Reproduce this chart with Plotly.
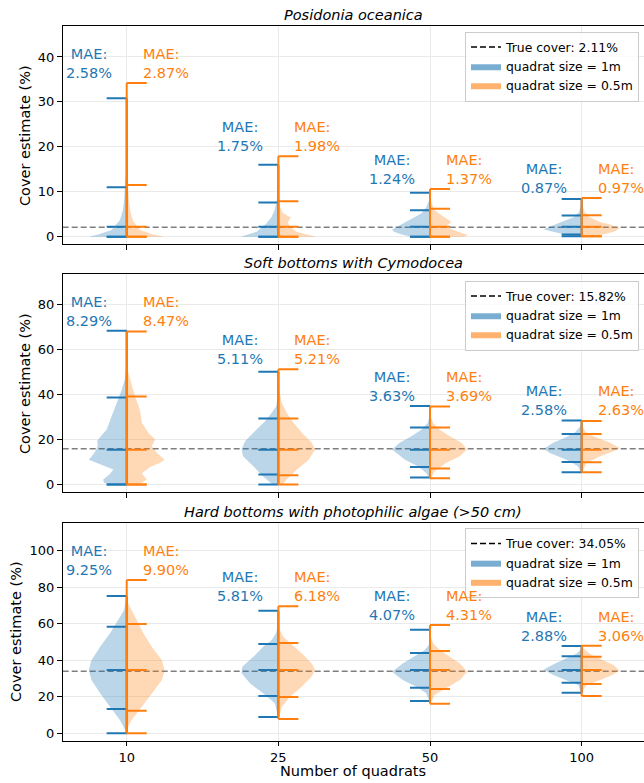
import plotly.graph_objects as go

# ---------------- data ----------------
N_QUADRATS = ["10", "25", "50", "100"]
HABITATS = ["Posidonia oceanica", "Soft bottoms with Cymodocea",
            "Hard bottoms with photophilic algae (&gt;50 cm)"]
TRUE_COVER = [2.11, 15.82, 34.05]
MAE_1M = [[2.58, 1.75, 1.24, 0.87], [8.29, 5.11, 3.63, 2.58], [9.25, 5.81, 4.07, 2.88]]
MAE_05M = [[2.87, 1.98, 1.37, 0.97], [8.47, 5.21, 3.69, 2.63], [9.90, 6.18, 4.31, 3.06]]

# per violin: [min, low quantile, median, high quantile, max]
STATS_1M_POS = [[0, 0, 2.2, 11.0, 30.8], [0, 0, 2.2, 7.6, 16.0], [0, 0, 2.2, 5.9, 9.8], [0.1, 0.5, 2.2, 4.7, 8.4]]
STATS_05M_POS = [[0, 0, 2.2, 11.5, 34.2], [0, 0, 2.2, 7.9, 17.9], [0, 0, 2.2, 6.2, 10.6], [0.1, 0.1, 2.2, 4.8, 8.6]]
STATS_1M_SOFT = [[0, 0, 15.4, 38.6, 68.2], [0, 4.4, 15.4, 29.3, 50.0], [3.1, 7.8, 15.4, 25.3, 34.8], [5.4, 10.0, 15.4, 22.4, 28.4]]
STATS_05M_SOFT = [[0, 0, 15.4, 39.0, 67.8], [0, 4.1, 15.4, 29.3, 51.1], [2.8, 7.1, 15.4, 25.3, 34.6], [5.4, 9.9, 15.4, 22.4, 28.2]]
STATS_1M_HARD = [[0, 13.3, 34.7, 58.4, 75.2], [8.9, 20.4, 34.7, 48.9, 67.2], [17.7, 25.0, 34.7, 44.0, 56.8], [22.2, 27.7, 34.7, 42.2, 47.8]]
STATS_05M_HARD = [[0, 12.4, 34.7, 59.9, 84.0], [7.8, 19.9, 34.7, 49.5, 69.7], [16.2, 24.3, 34.7, 45.1, 59.3], [20.4, 27.0, 34.7, 42.0, 48.0]]

# density profiles (cover value, relative half-width)
PROF_Y_1M_POS = [[0, 0.5, 1.5, 3.7, 5.9, 8, 10.5, 12, 16, 30.8],
                 [0, 0.5, 1.1, 3.0, 4.4, 5.9, 7.5, 9, 12, 16],
                 [0, 0.5, 1.1, 1.6, 2.5, 3.3, 4.1, 5.2, 6.5, 8, 9.8],
                 [0.1, 0.5, 1.1, 1.6, 2.2, 3.3, 4.4, 5.5, 7, 8.4]]
PROF_W_1M_POS = [[1.0, 0.75, 0.4, 0.18, 0.1, 0.07, 0.05, 0.02, 0.005, 0],
                 [1.0, 0.8, 0.57, 0.31, 0.18, 0.1, 0.05, 0.02, 0.005, 0],
                 [0.5, 0.75, 0.95, 1.0, 0.8, 0.62, 0.45, 0.22, 0.1, 0.03, 0],
                 [0.3, 0.45, 0.8, 1.0, 0.85, 0.53, 0.2, 0.07, 0.02, 0]]
PROF_Y_05M_POS = [[0, 0.5, 1.5, 3.5, 5.5, 8, 11, 14, 20, 34.2],
                  [0, 0.5, 1.1, 2.2, 3.2, 4.2, 5.3, 6.5, 8, 11, 17.9],
                  [0, 0.4, 1.1, 2.2, 3.3, 4.5, 5.9, 7.5, 9, 10.6],
                  [0.1, 0.5, 1.1, 1.9, 2.7, 3.3, 4.4, 5.5, 7, 8.6]]
PROF_W_05M_POS = [[1.0, 0.7, 0.35, 0.17, 0.1, 0.06, 0.03, 0.01, 0.005, 0],
                  [1.0, 0.75, 0.48, 0.3, 0.25, 0.33, 0.12, 0.05, 0.02, 0.005, 0],
                  [0.9, 1.0, 0.74, 0.4, 0.57, 0.35, 0.12, 0.04, 0.01, 0],
                  [0.3, 0.55, 0.85, 1.0, 0.75, 0.48, 0.2, 0.08, 0.02, 0]]

PROF_Y_1M_SOFT = [[0, 0.75, 2.2, 4.5, 6.6, 9, 11, 13, 15.5, 17.5, 19.2, 21.5, 24.3, 30.2, 36.2, 42, 47.3, 55, 68.2],
                  [0, 0.7, 3.6, 8.1, 12.5, 15.5, 19.2, 23.6, 28, 31.7, 34.6, 40, 50],
                  [3.1, 5.1, 8.1, 11, 15.5, 18.5, 21.4, 24.3, 27.3, 30, 34.8],
                  [5.4, 8.1, 11, 14, 15.8, 18.5, 20.7, 23, 25.5, 28.4]]
PROF_W_1M_SOFT = [[0.45, 0.6, 0.62, 0.45, 0.35, 0.7, 1.0, 0.9, 0.8, 0.76, 0.78, 0.68, 0.53, 0.4, 0.27, 0.13, 0.04, 0.01, 0],
                  [0.15, 0.2, 0.4, 0.66, 0.93, 0.97, 0.88, 0.62, 0.35, 0.18, 0.06, 0.01, 0],
                  [0.03, 0.1, 0.32, 0.66, 1.0, 0.8, 0.49, 0.23, 0.06, 0.02, 0],
                  [0.02, 0.1, 0.4, 0.84, 1.0, 0.75, 0.44, 0.18, 0.05, 0]]
PROF_Y_05M_SOFT = [[0, 0.75, 2.2, 5, 7.5, 9.6, 11, 14, 17, 19.9, 22.9, 27.4, 33, 39, 45, 49.8, 56, 67.8],
                   [0, 2.2, 6.6, 11, 15.5, 18.5, 22.9, 27.4, 31.7, 36.2, 42, 51.1],
                   [2.8, 5.8, 9.6, 12.5, 15.5, 18.5, 21.4, 24.3, 27.3, 30, 34.6],
                   [5.4, 9.6, 12.5, 14.7, 16.2, 18.5, 21.4, 23.6, 26, 28.2]]
PROF_W_05M_SOFT = [[0.3, 0.4, 0.53, 0.4, 0.6, 0.88, 1.0, 0.8, 0.66, 0.75, 0.57, 0.4, 0.35, 0.22, 0.13, 0.04, 0.01, 0],
                   [0.12, 0.22, 0.49, 0.8, 0.97, 0.88, 0.62, 0.4, 0.22, 0.09, 0.02, 0],
                   [0.02, 0.12, 0.43, 0.79, 0.97, 0.83, 0.52, 0.26, 0.08, 0.02, 0],
                   [0.02, 0.13, 0.49, 0.84, 1.0, 0.75, 0.31, 0.09, 0.02, 0]]

PROF_Y_1M_HARD = [[0, 1.8, 7.3, 14.6, 21.9, 29.2, 34.7, 40.1, 47.4, 54.8, 62, 67.5, 75.2],
                  [8.9, 16.4, 21.9, 27.4, 32.9, 36.5, 41.9, 47.4, 51, 54.8, 60, 67.2],
                  [17.7, 21.9, 25.5, 29.2, 33.8, 38.3, 42, 45.6, 48.4, 52, 56.8],
                  [22.2, 26.5, 29.2, 31.9, 35, 38.3, 41.1, 43.8, 46, 47.8]]
PROF_W_1M_HARD = [[0.01, 0.04, 0.18, 0.44, 0.7, 0.93, 1.0, 0.93, 0.7, 0.44, 0.22, 0.07, 0],
                  [0.01, 0.09, 0.4, 0.75, 0.97, 0.95, 0.66, 0.4, 0.18, 0.06, 0.01, 0],
                  [0.02, 0.1, 0.36, 0.72, 1.0, 0.72, 0.41, 0.14, 0.03, 0.01, 0],
                  [0.02, 0.09, 0.44, 0.75, 1.0, 0.7, 0.4, 0.13, 0.03, 0]]
PROF_Y_05M_HARD = [[0, 3.6, 7.3, 14.6, 21.9, 29.2, 34.7, 40.1, 47.4, 54.8, 62, 67.5, 71.2, 77, 84],
                   [7.8, 14.6, 20.1, 25.6, 31.1, 34.7, 38.3, 43.8, 49.3, 52.9, 56.6, 62, 69.7],
                   [16.2, 21, 25.5, 29.2, 33.8, 38.3, 42, 45.6, 49.3, 53, 59.3],
                   [20.4, 23.5, 26.5, 29.2, 31.9, 34.3, 37.4, 40.1, 42.9, 45.6, 48]]
PROF_W_05M_HARD = [[0.01, 0.04, 0.13, 0.4, 0.66, 0.93, 1.0, 0.93, 0.66, 0.44, 0.27, 0.13, 0.04, 0.01, 0],
                   [0.01, 0.09, 0.31, 0.62, 0.88, 0.97, 0.88, 0.62, 0.31, 0.13, 0.04, 0.01, 0],
                   [0.02, 0.12, 0.48, 0.79, 0.98, 0.79, 0.52, 0.26, 0.08, 0.02, 0],
                   [0.01, 0.04, 0.13, 0.49, 0.8, 1.0, 0.84, 0.57, 0.26, 0.09, 0]]

Y_RANGES = [[-1.69, 46.82], [-3.46, 93.2], [-4.05, 115.1]]
Y_DTICK = [10, 20, 20]

# ---------------- style ----------------
W, H = 644, 783
FONT = "DejaVu Sans"
BLUE, ORANGE = "#1f77b4", "#ff7f0e"
BLUE_BODY, ORANGE_BODY = "rgba(31,119,180,0.3)", "rgba(255,127,14,0.3)"
BLUE_PATCH, ORANGE_PATCH = "rgba(31,119,180,0.6)", "rgba(255,127,14,0.6)"
HALF = 0.25
TICK = 0.132
X_RANGE = [-0.422, 3.411]
X_LEFT_PX = 62.7
PANEL_PX = [(26.3, 244.3), (274.3, 492.3), (523.3, 740.7)]
LEGEND_TOP_PX = [31.5, 280.5, 528.0]
YLABEL_X_PX = [25.7, 25.7, 16.0]
GRID = "rgb(234,234,234)"

stats_1m = [STATS_1M_POS, STATS_1M_SOFT, STATS_1M_HARD]
stats_05 = [STATS_05M_POS, STATS_05M_SOFT, STATS_05M_HARD]
py_1m = [PROF_Y_1M_POS, PROF_Y_1M_SOFT, PROF_Y_1M_HARD]
pw_1m = [PROF_W_1M_POS, PROF_W_1M_SOFT, PROF_W_1M_HARD]
py_05 = [PROF_Y_05M_POS, PROF_Y_05M_SOFT, PROF_Y_05M_HARD]
pw_05 = [PROF_W_05M_POS, PROF_W_05M_SOFT, PROF_W_05M_HARD]

fig = go.Figure()
annotations = []
shapes = []
layout = {}

for p in range(3):
    sfx = "" if p == 0 else str(p + 1)
    xa, ya = "x" + sfx, "y" + sfx
    lg = "legend" + sfx

    for side, stats, pys, pws, body, col in [(-1, stats_1m[p], py_1m[p], pw_1m[p], BLUE_BODY, BLUE),
                                             (1, stats_05[p], py_05[p], pw_05[p], ORANGE_BODY, ORANGE)]:
        for i in range(len(N_QUADRATS)):
            ys, ws = pys[i], pws[i]
            px_ = [i] + [i + side * HALF * w for w in ws] + [i, i]
            py_ = [ys[0]] + list(ys) + [ys[-1], ys[0]]
            fig.add_trace(go.Scatter(x=px_, y=py_, mode="lines", fill="toself", fillcolor=body,
                                     line=dict(width=0), hoverinfo="skip", showlegend=False,
                                     xaxis=xa, yaxis=ya))
        lx, ly = [], []
        for i in range(len(N_QUADRATS)):
            s = stats[i]
            lx += [i, i, None]
            ly += [s[0], s[-1], None]
            for v in s:
                lx += [i, i + side * TICK, None]
                ly += [v, v, None]
        fig.add_trace(go.Scatter(x=lx, y=ly, mode="lines", line=dict(color=col, width=2),
                                 hoverinfo="skip", showlegend=False, xaxis=xa, yaxis=ya))

    # legend entries
    fig.add_trace(go.Scatter(x=[None], y=[None], mode="lines",
                             line=dict(color="black", width=1.5, dash="6px,3px"),
                             name=f"True cover: {TRUE_COVER[p]:.2f}%", legend=lg, xaxis=xa, yaxis=ya))
    fig.add_trace(go.Scatter(x=[None], y=[None], mode="lines", fill="toself", fillcolor=BLUE_PATCH,
                             line=dict(width=0), name="quadrat size = 1m", legend=lg, xaxis=xa, yaxis=ya))
    fig.add_trace(go.Scatter(x=[None], y=[None], mode="lines", fill="toself", fillcolor=ORANGE_PATCH,
                             line=dict(width=0), name="quadrat size = 0.5m", legend=lg, xaxis=xa, yaxis=ya))

    # true cover line
    shapes.append(dict(type="line", xref=xa + " domain", yref=ya, x0=0, x1=1,
                       y0=TRUE_COVER[p], y1=TRUE_COVER[p], layer="below",
                       line=dict(color="rgba(0,0,0,0.5)", width=1.5, dash="6px,3px")))

    top_px, bot_px = PANEL_PX[p]
    dom = [1 - bot_px / H, 1 - top_px / H]
    layout["xaxis" + sfx] = dict(domain=[X_LEFT_PX / W, 1], range=X_RANGE, anchor=ya,
                                 tickvals=list(range(len(N_QUADRATS))), ticktext=N_QUADRATS,
                                 showticklabels=(p == 2), ticks="outside", ticklen=4.7, tickwidth=1,
                                 tickcolor="black", showline=True, linecolor="black", linewidth=1,
                                 mirror=True, showgrid=True, gridcolor=GRID, gridwidth=1,
                                 zeroline=False, tickfont=dict(size=13, color="black"))
    layout["yaxis" + sfx] = dict(domain=dom, range=Y_RANGES[p], anchor=xa, dtick=Y_DTICK[p], tick0=0,
                                 ticks="outside", ticklen=4.7, tickwidth=1, tickcolor="black",
                                 showline=True, linecolor="black", linewidth=1, mirror=False,
                                 showgrid=True, gridcolor=GRID, gridwidth=1, zeroline=False,
                                 tickfont=dict(size=13, color="black"))
    layout[lg] = dict(x=639 / W, xanchor="right", y=1 - LEGEND_TOP_PX[p] / H, yanchor="top",
                      bgcolor="rgba(255,255,255,0.8)", bordercolor="#cccccc", borderwidth=1,
                      font=dict(family=FONT, size=12.4, color="black"), itemwidth=30,
                      tracegroupgap=0)

    # title
    annotations.append(dict(text=f"<i>{HABITATS[p]}</i>", xref="paper", yref="paper",
                            x=(X_LEFT_PX + W) / 2 / W, y=dom[1], xanchor="center", yanchor="bottom",
                            yshift=1, showarrow=False, font=dict(size=14.5, color="black")))
    # y label
    annotations.append(dict(text="Cover estimate (%)", xref="paper", yref="paper",
                            x=YLABEL_X_PX[p] / W, y=(dom[0] + dom[1]) / 2, xanchor="center",
                            yanchor="middle", textangle=-90, showarrow=False,
                            font=dict(size=14.5, color="black")))
    # MAE labels
    for i in range(len(N_QUADRATS)):
        top = max(stats_1m[p][i][-1], stats_05[p][i][-1])
        annotations.append(dict(text=f"MAE:<br>{MAE_1M[p][i]:.2f}%", xref=xa, yref=ya,
                                x=i - 0.25, y=top, xanchor="center", yanchor="bottom", align="center",
                                showarrow=False, yshift=0, font=dict(size=14.5, color=BLUE)))
        annotations.append(dict(text=f"MAE:<br>{MAE_05M[p][i]:.2f}%", xref=xa, yref=ya,
                                x=i + 0.105, y=top, xanchor="left", yanchor="bottom", align="left",
                                showarrow=False, xshift=-2, yshift=0, font=dict(size=14.5, color=ORANGE)))

annotations.append(dict(text="Number of quadrats", xref="paper", yref="paper",
                        x=(X_LEFT_PX + W) / 2 / W, y=1 - 771 / H, xanchor="center", yanchor="middle",
                        showarrow=False, font=dict(size=14.5, color="black")))

fig.update_layout(width=W, height=H, margin=dict(l=0, r=0, t=0, b=0, pad=0),
                  paper_bgcolor="white", plot_bgcolor="white",
                  font=dict(family=FONT, color="black"),
                  annotations=annotations, shapes=shapes, **layout)

fig.write_html("out.html")
